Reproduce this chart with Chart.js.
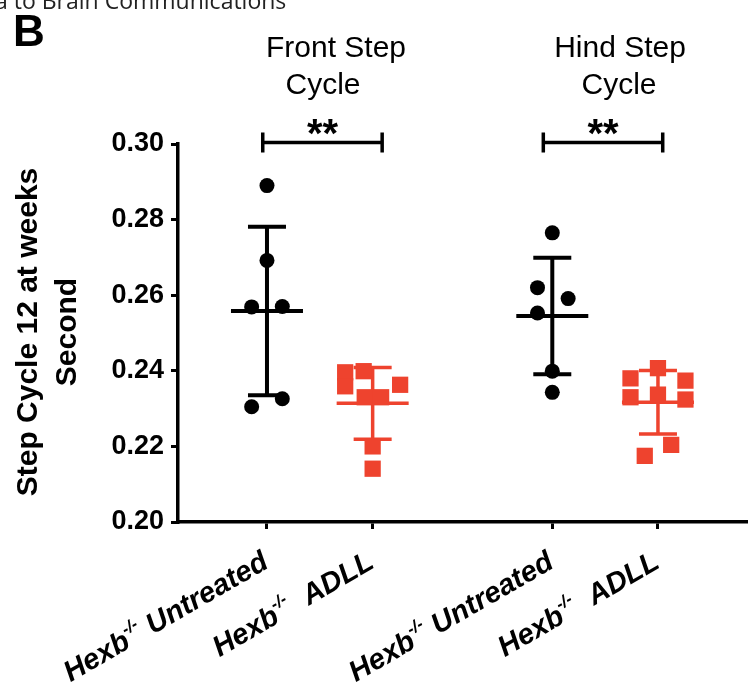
<!DOCTYPE html>
<html>
<head>
<meta charset="utf-8">
<script src="https://cdn.jsdelivr.net/npm/chart.js@4.4.1/dist/chart.umd.min.js"></script>
<style>
  html, body { margin: 0; padding: 0; background: #fff; overflow: hidden; }
</style>
</head>
<body>
<canvas id="chart" width="748" height="695"></canvas>
<script>
const FONT = "'Liberation Sans', Arial, sans-serif";
const RED = '#ee432e';

// groups on the x axis (front untreated, front ADLL, hind untreated, hind ADLL)
const groupLabels = [' Untreated', '  ADLL', ' Untreated', '  ADLL'];
const groupPos = [1, 2, 3.7, 4.7];
const panelTitles = [['Front Step', 'Cycle'], ['Hind Step', 'Cycle']];
const yTicks = [0.20, 0.22, 0.24, 0.26, 0.28, 0.30];

// individual animals (seconds) and small horizontal spread as in the figure
const frontUntreated = [0.2890, 0.2692, 0.2569, 0.2570, 0.2326, 0.2305];
const frontUntreatedJitter = [0, 0, -0.145, 0.145, 0.145, -0.145];
const frontADLL = [0.2396, 0.2359, 0.2399, 0.2363, 0.2330, 0.2330, 0.2200, 0.2141];
const frontADLLJitter = [-0.26, -0.26, -0.085, 0.26, -0.075, 0.08, 0, 0];
const hindUntreated = [0.2765, 0.2620, 0.2591, 0.2553, 0.2399, 0.2343];
const hindUntreatedJitter = [0, -0.14, 0.15, -0.14, 0, 0];
const hindADLL = [0.2407, 0.2380, 0.2374, 0.2330, 0.2337, 0.2324, 0.2204, 0.2175];
const hindADLLJitter = [0, -0.26, 0.26, -0.26, 0, 0.26, 0.125, -0.125];

// mean +/- SD per group
const groupMeans = [0.2558, 0.2314, 0.2545, 0.2317];
const groupSD = [0.0223, 0.0095, 0.0154, 0.0084];

// significance brackets: [from, to] in x units, stars
const brackets = [[0.96, 2.09], [3.615, 4.745]];
const bracketY = 0.3004;
const stars = ['**', '**'];

function pts(values, jitter, g) {
    return values.map((v, i) => ({ x: groupPos[g] + jitter[i], y: v }));
}

const dotStyle = { pointStyle: 'circle', pointRadius: 7.5, backgroundColor: '#000', borderWidth: 0 };
const sqStyle = { pointStyle: 'rect', pointRadius: 11.5, backgroundColor: RED, borderWidth: 0 };

const extras = {
    id: 'extras',
    beforeDatasetsDraw(chart) {
        const ctx = chart.ctx;
        const xs = chart.scales.x, ys = chart.scales.y;
        ctx.save();
        groupMeans.forEach((m, i) => {
            const col = i % 2 === 0 ? '#000' : RED;
            const x = xs.getPixelForValue(groupPos[i]);
            const ym = ys.getPixelForValue(m);
            const yt = ys.getPixelForValue(m + groupSD[i]);
            const yb = ys.getPixelForValue(m - groupSD[i]);
            ctx.strokeStyle = col;
            ctx.lineWidth = i % 2 === 0 ? 4 : 3.5;
            ctx.beginPath();
            ctx.moveTo(x, yt); ctx.lineTo(x, yb);
            ctx.moveTo(x - 19, yt); ctx.lineTo(x + 19, yt);
            ctx.moveTo(x - 19, yb); ctx.lineTo(x + 19, yb);
            ctx.moveTo(x - 36, ym); ctx.lineTo(x + 36, ym);
            ctx.stroke();
        });
        ctx.restore();
    },
    afterDraw(chart) {
        const ctx = chart.ctx;
        const xs = chart.scales.x, ys = chart.scales.y;
        ctx.save();

        // cut header line at the very top
        ctx.font = "23px 'Open Sans', sans-serif";
        ctx.fillStyle = '#222';
        ctx.textAlign = 'left';
        ctx.textBaseline = 'alphabetic';
        ctx.fillText('a to Brain Communications', -5, 9);

        // panel letter
        ctx.fillStyle = '#000';
        ctx.font = 'bold 44px ' + FONT;
        ctx.fillText('B', 13, 46);

        // panel titles
        ctx.font = '30px ' + FONT;
        ctx.textAlign = 'center';
        const titleX = [[336, 323], [620, 619]];
        panelTitles.forEach((t, p) => {
            ctx.fillText(t[0], titleX[p][0], 57);
            ctx.fillText(t[1], titleX[p][1], 94);
        });

        // brackets and stars
        const by = ys.getPixelForValue(bracketY);
        ctx.strokeStyle = '#000';
        ctx.lineWidth = 3.5;
        brackets.forEach((b, i) => {
            const x0 = xs.getPixelForValue(b[0]), x1 = xs.getPixelForValue(b[1]);
            ctx.beginPath();
            ctx.moveTo(x0, by); ctx.lineTo(x1, by);
            ctx.moveTo(x0, by - 10); ctx.lineTo(x0, by + 10);
            ctx.moveTo(x1, by - 10); ctx.lineTo(x1, by + 10);
            ctx.stroke();
            ctx.font = 'bold 40px ' + FONT;
            ctx.textAlign = 'center';
            ctx.fillText(stars[i], (x0 + x1) / 2, by + 5);
        });

        // y axis title
        ctx.save();
        ctx.translate(29, 332);
        ctx.rotate(-Math.PI / 2);
        ctx.font = 'bold 30px ' + FONT;
        ctx.textAlign = 'center';
        ctx.textBaseline = 'middle';
        ctx.fillText('Step Cycle 12 at weeks', 0, 0);
        ctx.fillText('Second', 0, 39);
        ctx.restore();

        // rotated category labels with superscript
        const big = 'italic bold 29px ' + FONT, small = 'italic bold 17px ' + FONT;
        groupLabels.forEach((rest, i) => {
            const x = xs.getPixelForValue(groupPos[i]) + 3;
            const y = ys.bottom + 45;
            ctx.save();
            ctx.translate(x, y);
            ctx.rotate(-30 * Math.PI / 180);
            ctx.textAlign = 'left';
            ctx.textBaseline = 'alphabetic';
            ctx.font = big;
            const w1 = ctx.measureText('Hexb').width;
            const w3 = ctx.measureText(rest).width;
            ctx.font = small;
            const w2 = ctx.measureText('-/-').width;
            let cx = -(w1 + w2 + w3);
            ctx.font = big; ctx.fillText('Hexb', cx, 0); cx += w1;
            ctx.font = small; ctx.fillText('-/-', cx, -13); cx += w2;
            ctx.font = big; ctx.fillText(rest, cx, 0);
            ctx.restore();
        });
        ctx.restore();
    }
};

new Chart(document.getElementById('chart'), {
    type: 'scatter',
    data: {
        datasets: [
            { data: pts(frontUntreated, frontUntreatedJitter, 0), ...dotStyle },
            { data: pts(frontADLL, frontADLLJitter, 1), ...sqStyle },
            { data: pts(hindUntreated, hindUntreatedJitter, 2), ...dotStyle },
            { data: pts(hindADLL, hindADLLJitter, 3), ...sqStyle }
        ]
    },
    options: {
        responsive: false,
        animation: false,
        devicePixelRatio: 1,
        layout: { autoPadding: false, padding: { top: 144, left: 0, right: 0, bottom: 0 } },
        plugins: { legend: { display: false }, tooltip: { enabled: false } },
        scales: {
            x: {
                type: 'linear',
                min: 0.158,
                max: 5.552,
                afterBuildTicks: s => { s.ticks = groupPos.map(v => ({ value: v })); },
                afterFit: s => { s.height = 173; },
                ticks: { display: false },
                grid: { drawOnChartArea: false, color: '#000', lineWidth: 3, tickLength: 7 },
                border: { color: '#000', width: 3.5 }
            },
            y: {
                min: 0.2,
                max: 0.3,
                afterBuildTicks: s => { s.ticks = yTicks.map(v => ({ value: v })); },
                afterFit: s => { s.width = 178; },
                ticks: {
                    color: '#000',
                    padding: 7,
                    font: { family: FONT, size: 27, weight: 'bold' },
                    callback: v => v.toFixed(2)
                },
                grid: { drawOnChartArea: false, color: '#000', lineWidth: 3, tickLength: 7 },
                border: { color: '#000', width: 3.5 }
            }
        }
    },
    plugins: [extras]
});
</script>
</body>
</html>
